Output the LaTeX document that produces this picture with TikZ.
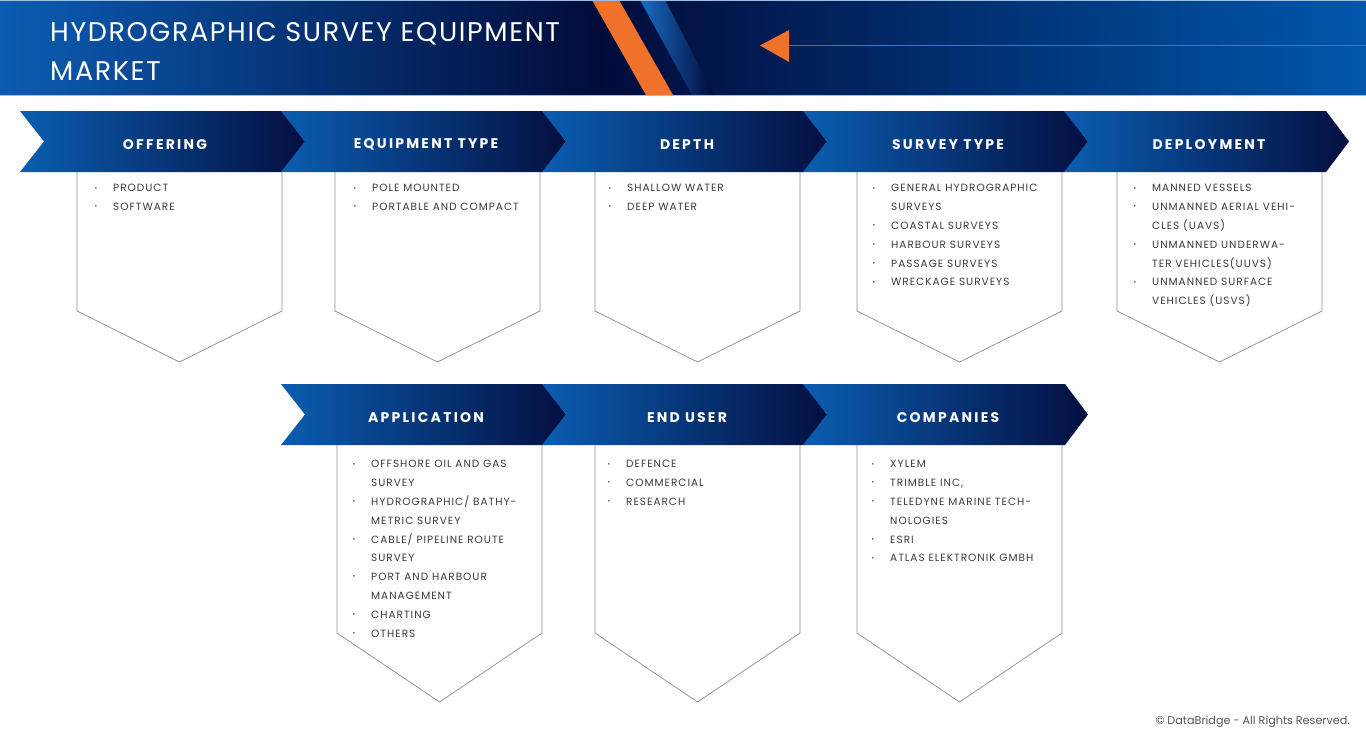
\documentclass[tikz,border=0pt]{standalone}
\usepackage{fontspec}
\setmainfont{Poppins}
\newfontfamily\headfont{Poppins}[LetterSpace=16]
\newfontfamily\bodyfont{Poppins}[LetterSpace=9.5]
\newfontfamily\titlefont{Poppins}[LetterSpace=6]
\definecolor{hblue}{HTML}{0B5CB2}
\definecolor{hnavy}{HTML}{010B3A}
\definecolor{hblueR}{HTML}{0057AC}
\definecolor{cblue}{HTML}{0B5DB1}
\definecolor{cnavy}{HTML}{030F40}
\definecolor{sblue}{HTML}{1A6CC4}
\definecolor{orng}{HTML}{F0712A}
\definecolor{arrline}{HTML}{6E6888}
\definecolor{txt}{HTML}{3A3A3A}
\definecolor{boxgray}{HTML}{8E8E8E}
\definecolor{foot}{HTML}{555555}
\tikzset{
  headtext/.style={text=white,font=\headfont\bfseries\fontsize{14}{16}\selectfont,inner sep=0pt},
  listtext/.style={text=txt,font=\bodyfont\fontsize{10.5}{18.8}\selectfont,align=left,inner sep=0pt,anchor=north west},
  titletext/.style={anchor=base west,text=white,font=\titlefont\fontsize{27}{30}\selectfont,inner sep=0pt},
  boxline/.style={draw=boxgray,line width=0.7pt},
}
\newcommand\chev[4]{%
  \shade[left color=cblue,right color=cnavy] (#1,#2) -- ++(262,0) -- ++(23,30.5) -- ++(-23,30.5) -- ++(-262,0) -- ++(24,-30.5) -- cycle;
  \node[headtext] (#3) at (#1+145,#2+33.5) {#4};
}
\newcommand\catbox[5]{% name, left, top, sidebottom, point
  \draw[boxline] (#2,#3) -- (#2,#4) -- (#2+102.5,#5) -- (#2+205,#4) -- (#2+205,#3);
  \coordinate (#1) at (#2+102.5,#5);
}
\newcommand\bul{\makebox[17pt][l]{\hspace*{-1.5pt}\raisebox{1.8pt}{\fontsize{6.5}{6.5}\selectfont•}}}
\newcommand\cnt{\hspace*{17pt}}
\begin{document}
\begin{tikzpicture}[x=1pt,y=-1pt]
\useasboundingbox (0,0) rectangle (1366,737);
\fill[white] (0,0) rectangle (1366,737);
% header
\shade[left color=hblue,right color=hnavy] (0,0) rectangle (600,95);
\shade[left color=hnavy,right color=hblueR] (600,0) rectangle (1366,95);
\fill[orng] (592,0) -- (619,0) -- (673,95) -- (646,95) -- cycle;
\shade[left color=sblue,right color=hnavy] (640,0) -- (665,0) -- (714,95) -- (692,95) -- cycle;
\draw[white!60!hblue,line width=0.6pt] (0,0.3) -- (1366,0.3);
\draw[white!60!hblue,line width=0.6pt] (0,95) -- (1366,95);
\coordinate (arrbase) at (789,45.5);
\coordinate (arrend) at (1366,45.5);
\draw[arrline,line width=1.3pt] (arrbase) -- (arrend);
\fill[orng] (760,45.5) -- (789,30) -- (789,62) -- cycle;
\node[titletext] (title1) at (50,41.5) {HYDROGRAPHIC SURVEY EQUIPMENT};
\node[titletext] (title2) at (50,80) {MARKET};
% row 1 chevrons
\chev{20}{111}{h1}{OFFERING}
\chev{281}{111}{h2}{EQUIPMENT TYPE}
\chev{542}{111}{h3}{DEPTH}
\chev{803}{111}{h4}{SURVEY TYPE}
\chev{1064}{111}{h5}{DEPLOYMENT}
% row 2 chevrons
\chev{281}{384}{h6}{APPLICATION}
\chev{542}{384}{h7}{END USER}
\chev{803}{384}{h8}{COMPANIES}
% boxes row 1
\catbox{b1}{77}{172}{311}{362}
\catbox{b2}{335}{172}{311}{362}
\catbox{b3}{595}{172}{311}{362}
\catbox{b4}{857}{172}{311}{362}
\catbox{b5}{1117}{172}{311}{362}
% boxes row 2
\catbox{b6}{337}{445}{633}{702}
\catbox{b7}{595}{445}{633}{702}
\catbox{b8}{857}{445}{633}{702}
% lists row 1
\node[listtext] (l1) at (96,184.3) {\bul PRODUCT\\\bul SOFTWARE};
\node[listtext] (l2) at (355,184.3) {\bul POLE MOUNTED\\\bul PORTABLE AND COMPACT};
\node[listtext] (l3) at (610,184.3) {\bul SHALLOW WATER\\\bul DEEP WATER};
\node[listtext] (l4) at (874,184.3) {\bul GENERAL HYDROGRAPHIC\\\cnt SURVEYS\\\bul COASTAL SURVEYS\\\bul HARBOUR SURVEYS\\\bul PASSAGE SURVEYS\\\bul WRECKAGE SURVEYS};
\node[listtext] (l5) at (1135,184.3) {\bul MANNED VESSELS\\\bul UNMANNED AERIAL VEHI-\\\cnt CLES (UAVS)\\\bul UNMANNED UNDERWA-\\\cnt TER VEHICLES(UUVS)\\\bul UNMANNED SURFACE\\\cnt VEHICLES (USVS)};
% lists row 2
\node[listtext] (l6) at (354,460.3) {\bul OFFSHORE OIL AND GAS\\\cnt SURVEY\\\bul HYDROGRAPHIC/ BATHY-\\\cnt METRIC SURVEY\\\bul CABLE/ PIPELINE ROUTE\\\cnt SURVEY\\\bul PORT AND HARBOUR\\\cnt MANAGEMENT\\\bul CHARTING\\\bul OTHERS};
\node[listtext] (l7) at (609,460.3) {\bul DEFENCE\\\bul COMMERCIAL\\\bul RESEARCH};
\node[listtext] (l8) at (873,460.3) {\bul XYLEM\\\bul TRIMBLE INC,\\\bul TELEDYNE MARINE TECH-\\\cnt NOLOGIES\\\bul ESRI\\\bul ATLAS ELEKTRONIK GMBH};
% footer
\node[anchor=base east,text=foot,font=\fontsize{11.2}{13}\selectfont,inner sep=0pt] (copy) at (1350,724) {© DataBridge - All Rights Reserved.};
\end{tikzpicture}
\end{document}
